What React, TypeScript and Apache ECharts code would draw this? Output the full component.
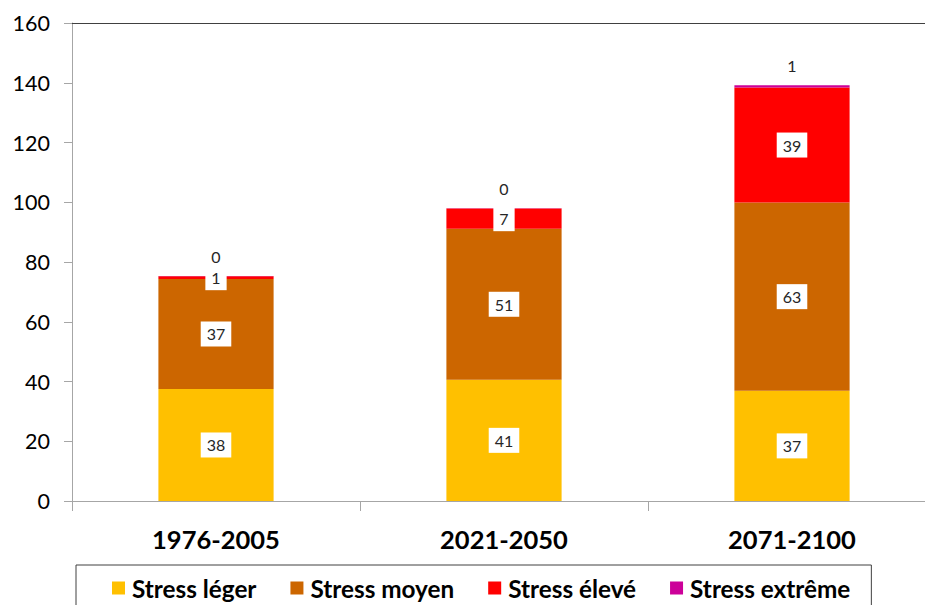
import React, { useEffect, useRef } from "react";
import * as echarts from "echarts";

const categories = ["1976-2005", "2021-2050", "2071-2100"];
const stressLeger = [37.5, 40.6, 36.9];
const stressMoyen = [36.8, 50.5, 63.0];
const stressEleve = [0.9, 6.8, 38.5];
const stressExtreme = [0.1, 0.1, 0.8];
const seriesNames = ["Stress léger", "Stress moyen", "Stress élevé", "Stress extrême"];
const seriesColors = ["#FFC000", "#CC6600", "#FF0000", "#CC0099"];

const FONT = "Lato";

export default function App() {
  const ref = useRef<HTMLDivElement>(null);
  useEffect(() => {
    if (!ref.current) return;
    const chart = echarts.init(ref.current, null, { renderer: "svg" });
    const fmt = (p: any) => String(Math.round(p.value));
    const boxLabel = {
      show: true,
      position: "inside",
      formatter: fmt,
      fontFamily: FONT,
      fontSize: 16,
      color: "#262626",
      backgroundColor: "#FFFFFF",
      padding: [5, 6, 4, 6],
    };
    const datas = [stressLeger, stressMoyen, stressEleve, stressExtreme];
    const series = datas.map((d, i) => ({
      name: seriesNames[i],
      type: "bar",
      stack: "total",
      barWidth: "40%",
      data: d,
      itemStyle: { color: seriesColors[i] },
      label:
        i === 3
          ? {
              show: true,
              position: "top",
              distance: 12,
              formatter: fmt,
              fontFamily: FONT,
              fontSize: 16,
              color: "#262626",
            }
          : boxLabel,
    }));
    chart.setOption({
      animation: false,
      textStyle: { fontFamily: FONT },
      grid: { left: 72, width: 864, top: 23, bottom: 104, containLabel: false, outerBoundsMode: "none" },
      legend: {
        data: seriesNames,
        left: 76,
        top: 565,
        orient: "horizontal",
        icon: "rect",
        itemWidth: 13,
        itemHeight: 13,
        itemGap: 34,
        padding: [11, 21, 12, 36],
        borderColor: "#404040",
        borderWidth: 1,
        textStyle: { fontFamily: FONT, fontSize: 24.3, fontWeight: "bold", color: "#000000", padding: [0, 0, 0, 2] },
      },
      xAxis: [
        {
          type: "category",
          data: categories,
          boundaryGap: true,
          axisLine: { show: true, lineStyle: { color: "#A6A6A6", width: 1 } },
          axisTick: { show: true, interval: 0, length: 10, alignWithLabel: false, lineStyle: { color: "#A6A6A6" } },
          axisLabel: { fontFamily: FONT, fontSize: 25.5, fontWeight: "bold", color: "#000000", margin: 25, interval: 0 },
          splitLine: { show: false },
        },
        {
          type: "category",
          data: categories,
          position: "top",
          axisLine: { show: true, lineStyle: { color: "#404040", width: 1 } },
          axisTick: { show: false },
          axisLabel: { show: false },
          splitLine: { show: false },
        },
      ],
      yAxis: {
        type: "value",
        min: 0,
        max: 160,
        interval: 20,
        axisLine: { show: true, lineStyle: { color: "#A6A6A6", width: 1 } },
        axisTick: { show: true, length: 8, lineStyle: { color: "#A6A6A6" } },
        axisLabel: { fontFamily: FONT, fontSize: 21.5, color: "#000000", margin: 22 },
        splitLine: { show: false },
      },
      series,
    });
    return () => chart.dispose();
  }, []);
  return (
    <div
      ref={ref}
      style={{ position: "fixed", left: 0, top: 0, width: 925, height: 605, background: "#FFFFFF" }}
    />
  );
}
